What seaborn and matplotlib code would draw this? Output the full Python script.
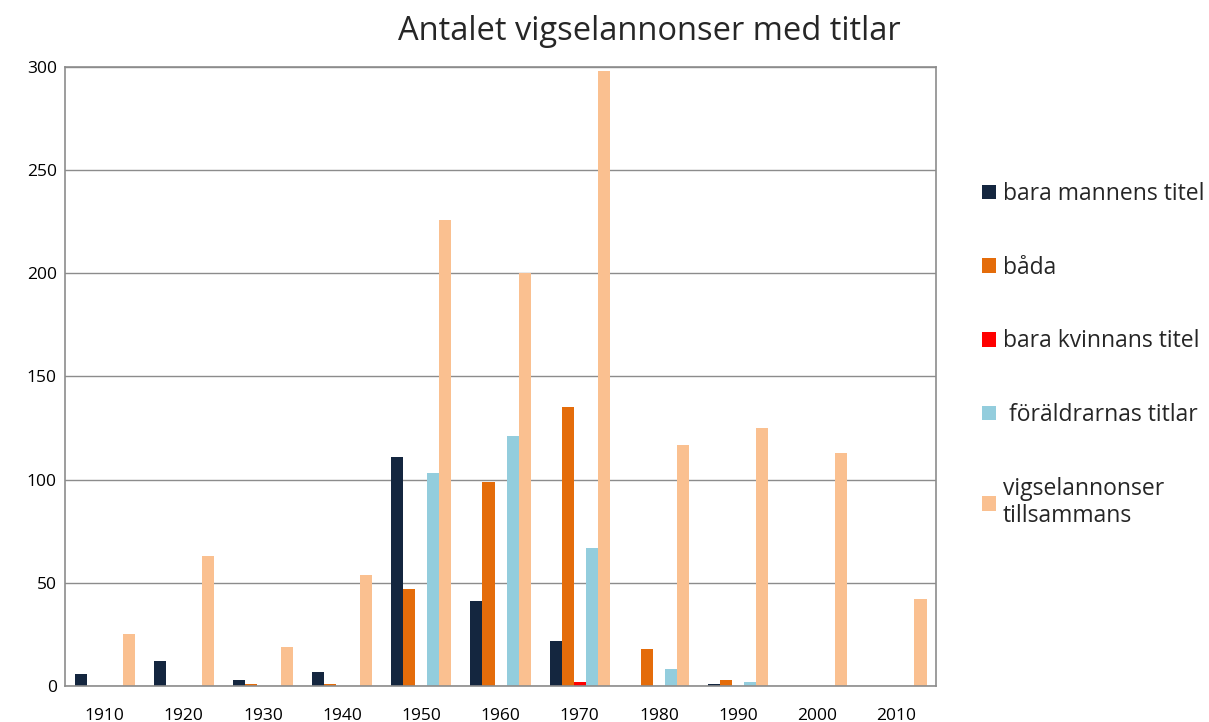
import matplotlib
matplotlib.use("Agg")
import matplotlib.pyplot as plt
import seaborn as sns
import pandas as pd
from matplotlib.patches import Patch

decades = ["1910", "1920", "1930", "1940", "1950", "1960", "1970", "1980", "1990", "2000", "2010"]
series_names = ["bara mannens titel", "båda", "bara kvinnans titel", " föräldrarnas titlar", "vigselannonser\ntillsammans"]
mannens = [6, 12, 3, 7, 111, 41, 22, 0, 1, 0, 0]
bada = [0, 0, 1, 1, 47, 99, 135, 18, 3, 0, 0]
kvinnans = [0, 0, 0, 0, 0, 0, 2, 0, 0, 0, 0]
foraldrar = [0, 0, 0, 0, 103, 121, 67, 8, 2, 0, 0]
tillsammans = [25, 63, 19, 54, 226, 200, 298, 117, 125, 113, 42]
colors = ["#14263f", "#e46c0a", "#ff0000", "#93cddd", "#fac090"]

rows = []
for name, vals in zip(series_names, [mannens, bada, kvinnans, foraldrar, tillsammans]):
    for d, v in zip(decades, vals):
        rows.append({"decade": d, "series": name, "value": v})
df = pd.DataFrame(rows)

sns.set_theme(style="white")
plt.rcParams["font.family"] = ["Open Sans", "DejaVu Sans"]

fig = plt.figure(figsize=(12.09, 7.22), dpi=100)
ax = fig.add_axes([0.0538, 0.0499, 0.7204, 0.8573])
sns.barplot(data=df, x="decade", y="value", hue="series", order=decades,
            hue_order=series_names, palette=colors, width=0.76, gap=0,
            saturation=1, ax=ax, legend=False, errorbar=None, linewidth=0)

ax.set_ylim(0, 300)
ax.set_xlim(-0.5, len(decades) - 0.5)
ax.set_yticks(range(0, 301, 50))
ax.yaxis.grid(True, color="#8c8c8c", linewidth=1)
ax.set_axisbelow(True)
for s in ax.spines.values():
    s.set_color("#8c8c8c")
    s.set_linewidth(1.2)
ax.set_xlabel("")
ax.set_ylabel("")
ax.tick_params(axis="both", labelsize=12.5, length=0, colors="black")
ax.tick_params(axis="x", pad=16)
ax.tick_params(axis="y", pad=6)
fig.text(0.537, 0.956, "Antalet vigselannonser med titlar", fontsize=23.5,
         ha="center", va="center")

handles = [Patch(facecolor=c, edgecolor="none") for c in colors]
fig.legend(handles, series_names, loc="center left", bbox_to_anchor=(0.803, 0.508),
           frameon=False, fontsize=16.5, labelspacing=2.17, handlelength=0.6,
           handleheight=0.6, handletextpad=0.3, borderpad=0)

fig.savefig("out.png", dpi=100)
